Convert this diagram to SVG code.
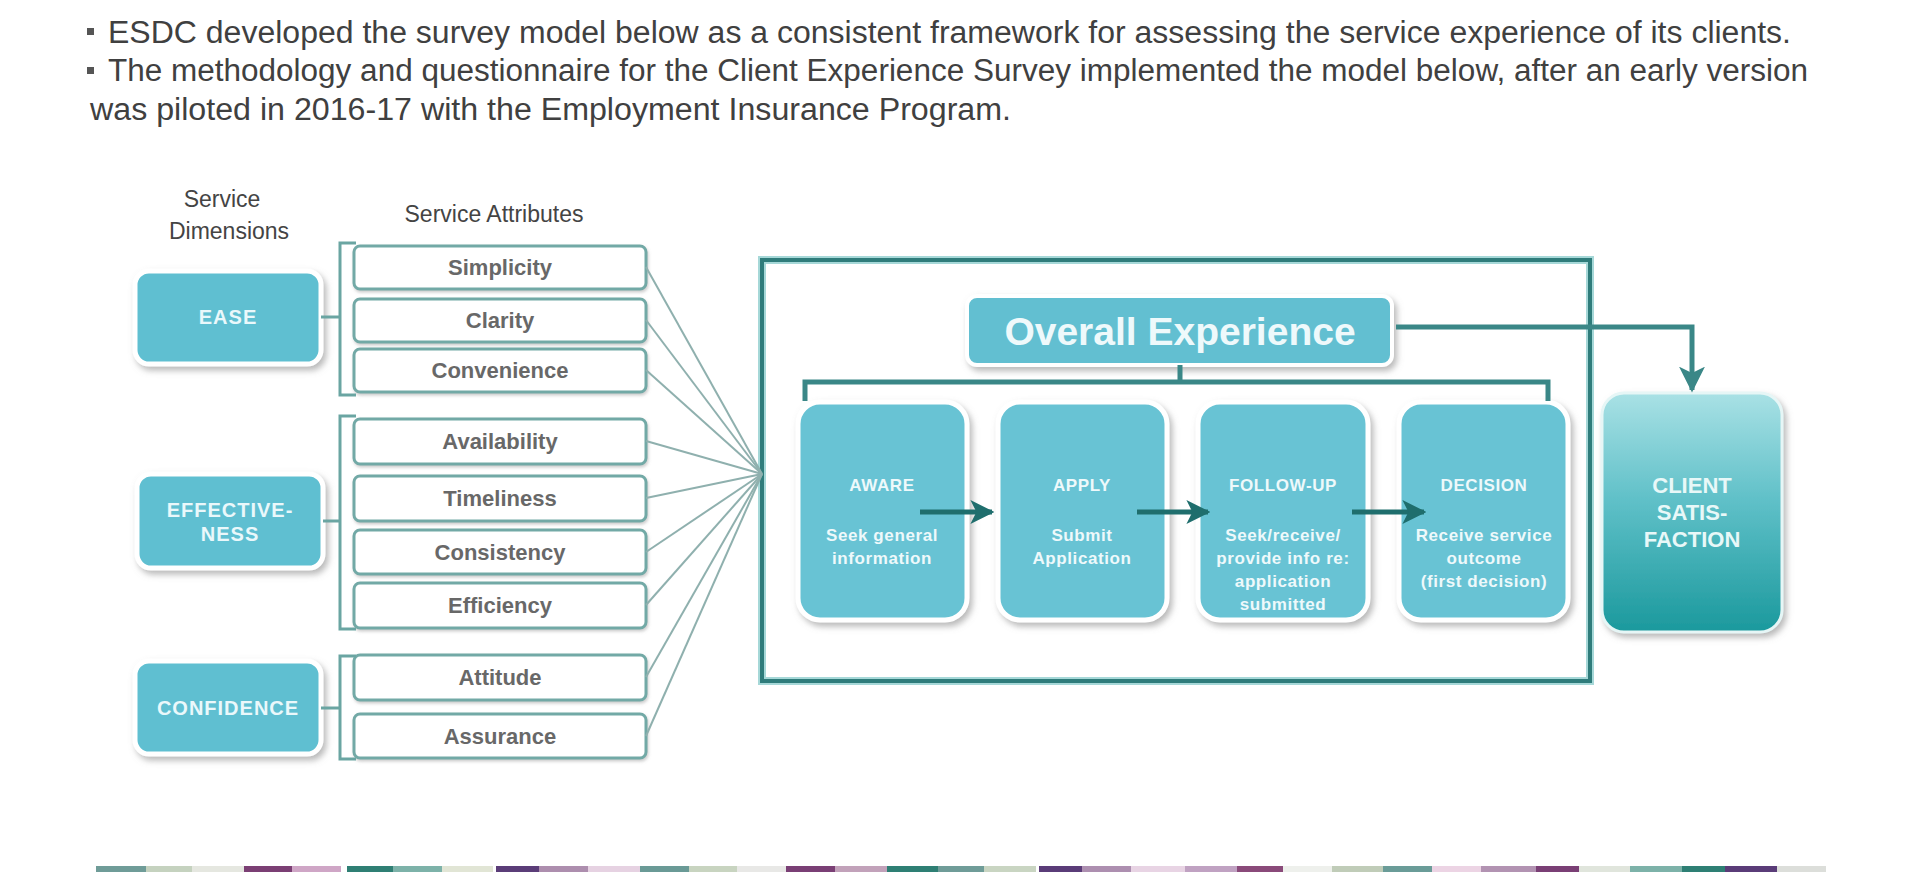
<svg xmlns="http://www.w3.org/2000/svg" width="1920" height="872" viewBox="0 0 1920 872">
<defs>
<filter id="sh" x="-20%" y="-20%" width="140%" height="140%">
<feDropShadow dx="3" dy="4" stdDeviation="3" flood-color="#8a8a8a" flood-opacity="0.6"/>
</filter>
<filter id="sh2" x="-10%" y="-20%" width="120%" height="150%">
<feDropShadow dx="1" dy="2" stdDeviation="1.5" flood-color="#9a9a9a" flood-opacity="0.5"/>
</filter>
<linearGradient id="csg" x1="0" y1="0" x2="0" y2="1">
<stop offset="0" stop-color="#a9e1e5"/>
<stop offset="0.45" stop-color="#5fc0c8"/>
<stop offset="1" stop-color="#1b999d"/>
</linearGradient>
<marker id="ah" viewBox="0 0 10 10" refX="9" refY="5" markerWidth="24" markerHeight="24" markerUnits="userSpaceOnUse" orient="auto">
<path d="M0,0 L10,5 L0,10 L2.5,5 z" fill="#1f6e6d"/>
</marker>
<marker id="ah2" viewBox="0 0 10 10" refX="9" refY="5" markerWidth="26" markerHeight="26" markerUnits="userSpaceOnUse" orient="auto">
<path d="M0,0 L10,5 L0,10 L2.5,5 z" fill="#3a8787"/>
</marker>
<style>
.hdr{font-family:"Liberation Sans",Arial,sans-serif;font-size:31px;fill:#404040}
.lbl{font-family:"Liberation Sans",Arial,sans-serif;font-size:23px;fill:#444;text-anchor:middle}
.dim{fill:#5ebfd1;stroke:#fff;stroke-width:5}
.dimt{font-family:"Liberation Sans",Arial,sans-serif;font-size:20px;font-weight:bold;fill:#eaf8fb;text-anchor:middle;letter-spacing:1px}
.att{fill:#fff;stroke:#72a9a6;stroke-width:3}
.attt{font-family:"Liberation Sans",Arial,sans-serif;font-size:22px;font-weight:bold;fill:#686868;text-anchor:middle}
.brk{fill:none;stroke:#6aa5a2;stroke-width:3}
.fan{stroke:#8fb0ae;stroke-width:2;fill:none}
.stg{fill:#68c3d4;stroke:#fff;stroke-width:5}
.stgt{font-family:"Liberation Sans",Arial,sans-serif;font-size:17px;font-weight:bold;fill:#eef9fb;text-anchor:middle;letter-spacing:0.6px}
.cst{font-family:"Liberation Sans",Arial,sans-serif;font-size:22px;font-weight:bold;fill:#e8f8f8;text-anchor:middle}
.arr{stroke:#1f6e6d;stroke-width:5;fill:none}
.dk{stroke:#3a8787;stroke-width:5;fill:none}
</style>
</defs>
<rect width="1920" height="872" fill="#fff"/>

<g id="header">
<rect x="87" y="28" width="7" height="7" fill="#555"/>
<text class="hdr" x="108" y="43" textLength="1683" lengthAdjust="spacingAndGlyphs">ESDC developed the survey  model below as a consistent  framework for assessing the service experience of its clients.</text>
<rect x="87" y="67" width="7" height="7" fill="#555"/>
<text class="hdr" x="108" y="81" textLength="1700" lengthAdjust="spacingAndGlyphs">The methodology and questionnaire for the Client Experience Survey  implemented the model below, after an early version</text>
<text class="hdr" x="90" y="120" textLength="921" lengthAdjust="spacingAndGlyphs">was piloted  in 2016-17 with the Employment Insurance  Program.</text>
</g>

<g id="col-labels">
<text class="lbl" x="222" y="207">Service</text>
<text class="lbl" x="229" y="239">Dimensions</text>
<text class="lbl" x="494" y="222">Service  Attributes</text>
</g>

<g id="frame">
<rect x="762" y="260" width="828" height="421" fill="none" stroke="#a6d8d8" stroke-width="8"/>
<rect x="762" y="260" width="828" height="421" fill="none" stroke="#2f7c7b" stroke-width="4"/>
</g>

<g id="ease"><rect class="dim" filter="url(#sh)" x="135" y="271" width="186" height="93" rx="14"/><text class="dimt" x="228" y="324">EASE</text></g>
<g id="effectiveness"><rect class="dim" filter="url(#sh)" x="137" y="474" width="186" height="94" rx="14"/><text class="dimt" x="230" y="517">EFFECTIVE-</text><text class="dimt" x="230" y="541">NESS</text></g>
<g id="confidence"><rect class="dim" filter="url(#sh)" x="135" y="661" width="186" height="93" rx="14"/><text class="dimt" x="228" y="715">CONFIDENCE</text></g>

<g id="simplicity"><rect class="att" filter="url(#sh2)" x="354" y="246" width="292" height="43" rx="6"/><text class="attt" x="500" y="275">Simplicity</text></g>
<g id="clarity"><rect class="att" filter="url(#sh2)" x="354" y="299" width="292" height="43" rx="6"/><text class="attt" x="500" y="328">Clarity</text></g>
<g id="convenience"><rect class="att" filter="url(#sh2)" x="354" y="349" width="292" height="43" rx="6"/><text class="attt" x="500" y="378">Convenience</text></g>
<g id="availability"><rect class="att" filter="url(#sh2)" x="354" y="419" width="292" height="45" rx="6"/><text class="attt" x="500" y="449">Availability</text></g>
<g id="timeliness"><rect class="att" filter="url(#sh2)" x="354" y="476" width="292" height="45" rx="6"/><text class="attt" x="500" y="506">Timeliness</text></g>
<g id="consistency"><rect class="att" filter="url(#sh2)" x="354" y="530" width="292" height="44" rx="6"/><text class="attt" x="500" y="560">Consistency</text></g>
<g id="efficiency"><rect class="att" filter="url(#sh2)" x="354" y="583" width="292" height="45" rx="6"/><text class="attt" x="500" y="613">Efficiency</text></g>
<g id="attitude"><rect class="att" filter="url(#sh2)" x="354" y="655" width="292" height="45" rx="6"/><text class="attt" x="500" y="685">Attitude</text></g>
<g id="assurance"><rect class="att" filter="url(#sh2)" x="354" y="714" width="292" height="44" rx="6"/><text class="attt" x="500" y="744">Assurance</text></g>

<g id="overall"><rect filter="url(#sh)" x="967" y="296" width="425" height="69" rx="10" fill="#62bfd1" stroke="#fff" stroke-width="4"/><text x="1180" y="345" font-family="Liberation Sans, Arial, sans-serif" font-size="39" font-weight="bold" fill="#eef9fb" text-anchor="middle">Overall Experience</text></g>

<g id="aware"><rect class="stg" filter="url(#sh)" x="798" y="402" width="169" height="218" rx="22"/>
<text class="stgt" x="882" y="491">AWARE</text><text class="stgt" x="882" y="541">Seek general</text><text class="stgt" x="882" y="564">information</text></g>
<g id="apply"><rect class="stg" filter="url(#sh)" x="998" y="402" width="169" height="218" rx="22"/>
<text class="stgt" x="1082" y="491">APPLY</text><text class="stgt" x="1082" y="541">Submit</text><text class="stgt" x="1082" y="564">Application</text></g>
<g id="follow-up"><rect class="stg" filter="url(#sh)" x="1198" y="402" width="170" height="218" rx="22"/>
<text class="stgt" x="1283" y="491">FOLLOW-UP</text><text class="stgt" x="1283" y="541">Seek/receive/</text><text class="stgt" x="1283" y="564">provide info re:</text><text class="stgt" x="1283" y="587">application</text><text class="stgt" x="1283" y="610">submitted</text></g>
<g id="decision"><rect class="stg" filter="url(#sh)" x="1399" y="402" width="169" height="218" rx="22"/>
<text class="stgt" x="1484" y="491">DECISION</text><text class="stgt" x="1484" y="541">Receive service</text><text class="stgt" x="1484" y="564">outcome</text><text class="stgt" x="1484" y="587">(first decision)</text></g>

<g id="client-satisfaction"><rect filter="url(#sh)" x="1602" y="393" width="180" height="239" rx="22" fill="url(#csg)" stroke="#e6f6f6" stroke-width="3"/>
<text class="cst" x="1692" y="493">CLIENT</text><text class="cst" x="1692" y="520">SATIS-</text><text class="cst" x="1692" y="547">FACTION</text></g>

<g id="connectors">
<line class="brk" x1="321" y1="317" x2="340" y2="317"/>
<line class="brk" x1="323" y1="521" x2="340" y2="521"/>
<line class="brk" x1="321" y1="708" x2="340" y2="708"/>
<path class="brk" d="M356 243 H340 V395 H356"/>
<path class="brk" d="M356 416 H340 V629 H356"/>
<path class="brk" d="M356 656 H340 V759 H356"/>
<line class="fan" x1="646" y1="267" x2="762" y2="474"/>
<line class="fan" x1="646" y1="320" x2="762" y2="474"/>
<line class="fan" x1="646" y1="370" x2="762" y2="474"/>
<line class="fan" x1="646" y1="441" x2="762" y2="474"/>
<line class="fan" x1="646" y1="498" x2="762" y2="474"/>
<line class="fan" x1="646" y1="552" x2="762" y2="474"/>
<line class="fan" x1="646" y1="605" x2="762" y2="474"/>
<line class="fan" x1="646" y1="677" x2="762" y2="474"/>
<line class="fan" x1="646" y1="736" x2="762" y2="474"/>
<path class="dk" d="M805 401 V382 H1548 V401"/>
<line class="dk" x1="1180" y1="365" x2="1180" y2="382"/>
<path class="dk" d="M1396 327 H1692 V390" marker-end="url(#ah2)"/>
<line class="arr" x1="920" y1="512" x2="992" y2="512" marker-end="url(#ah)"/>
<line class="arr" x1="1137" y1="512" x2="1208" y2="512" marker-end="url(#ah)"/>
<line class="arr" x1="1352" y1="512" x2="1424" y2="512" marker-end="url(#ah)"/>
</g>

<g id="footer-strip">
<rect x="96" y="866" width="50" height="6" fill="#6f9c98"/>
<rect x="146" y="866" width="46" height="6" fill="#c5d2bf"/>
<rect x="192" y="866" width="52" height="6" fill="#e5e7e0"/>
<rect x="244" y="866" width="48" height="6" fill="#7b3f74"/>
<rect x="292" y="866" width="49" height="6" fill="#cfa6c6"/>
<rect x="347" y="866" width="46" height="6" fill="#2f7f74"/>
<rect x="393" y="866" width="49" height="6" fill="#7db2a9"/>
<rect x="442" y="866" width="51" height="6" fill="#e1e5d5"/>
<rect x="496" y="866" width="43" height="6" fill="#5b3d78"/>
<rect x="539" y="866" width="49" height="6" fill="#ad8eae"/>
<rect x="588" y="866" width="52" height="6" fill="#e6d2e2"/>
<rect x="640" y="866" width="49" height="6" fill="#6a9a96"/>
<rect x="689" y="866" width="48" height="6" fill="#c8d4c0"/>
<rect x="737" y="866" width="49" height="6" fill="#e8e8e6"/>
<rect x="786" y="866" width="49" height="6" fill="#7a3f75"/>
<rect x="835" y="866" width="52" height="6" fill="#c2a2ba"/>
<rect x="887" y="866" width="51" height="6" fill="#2e7f74"/>
<rect x="938" y="866" width="46" height="6" fill="#6f9c98"/>
<rect x="984" y="866" width="52" height="6" fill="#c9d5c2"/>
<rect x="1039" y="866" width="43" height="6" fill="#5a3c78"/>
<rect x="1082" y="866" width="49" height="6" fill="#ad8fb0"/>
<rect x="1131" y="866" width="54" height="6" fill="#e8d4e4"/>
<rect x="1185" y="866" width="52" height="6" fill="#c0a2c2"/>
<rect x="1237" y="866" width="46" height="6" fill="#8a4a7a"/>
<rect x="1283" y="866" width="49" height="6" fill="#eef0ec"/>
<rect x="1332" y="866" width="51" height="6" fill="#c0ccb8"/>
<rect x="1383" y="866" width="49" height="6" fill="#6a9c98"/>
<rect x="1432" y="866" width="49" height="6" fill="#ecd4e4"/>
<rect x="1481" y="866" width="55" height="6" fill="#b293b2"/>
<rect x="1536" y="866" width="43" height="6" fill="#7a3f75"/>
<rect x="1579" y="866" width="51" height="6" fill="#e0e5dc"/>
<rect x="1630" y="866" width="52" height="6" fill="#7db2a9"/>
<rect x="1682" y="866" width="43" height="6" fill="#2e7f74"/>
<rect x="1725" y="866" width="52" height="6" fill="#5a3c78"/>
<rect x="1777" y="866" width="49" height="6" fill="#dcdeda"/>
</g>
</svg>
